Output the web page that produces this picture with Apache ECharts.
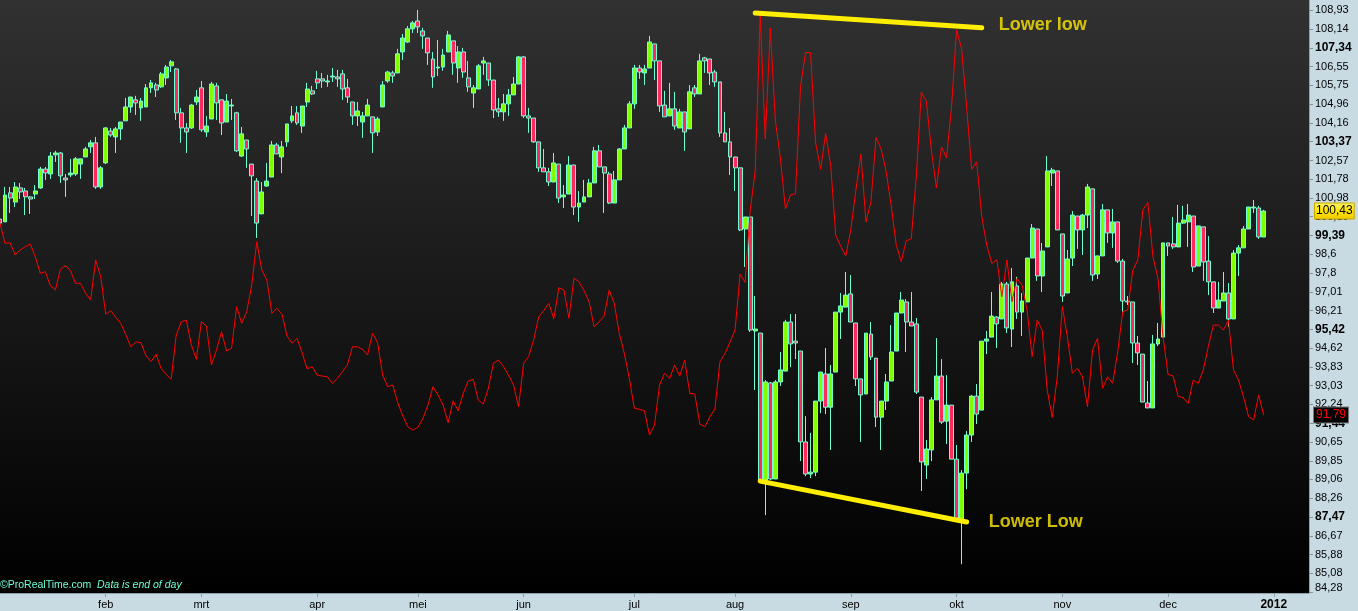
<!DOCTYPE html>
<html><head><meta charset="utf-8">
<script src="https://cdn.jsdelivr.net/npm/echarts@6/dist/echarts.min.js"></script>
<style>html,body{margin:0;padding:0;background:#c8dbe3;} #c{width:1358px;height:611px;}</style>
</head><body><div id="c"></div>
<script>
// ---- DATA ----
const candleOpen = [100.09,99.97,101.20,100.81,101.41,101.28,101.03,101.15,101.41,102.21,
102.00,102.81,102.89,101.83,101.96,102.00,102.42,102.72,103.15,103.32,
101.45,102.47,103.82,103.57,103.91,104.25,104.84,105.14,104.80,104.84,
105.65,105.77,105.69,106.07,106.58,106.45,104.59,103.95,103.95,105.05,
105.65,103.78,104.33,105.73,105.14,104.20,104.88,104.59,102.76,103.44,
102.42,101.70,100.31,101.49,101.87,103.23,102.72,103.36,104.25,104.59,
104.03,105.05,105.52,106.03,106.03,105.90,106.11,106.11,106.24,105.65,
105.05,104.46,104.20,104.46,104.42,103.78,104.84,105.94,106.28,106.28,
107.17,107.59,108.15,108.48,108.06,107.76,106.87,106.49,106.53,107.17,
107.64,106.49,107.17,106.07,105.43,105.60,106.70,106.70,105.98,104.76,
104.63,104.97,105.35,105.81,106.96,104.46,104.37,103.36,102.26,102.09,
101.66,102.42,101.03,101.15,102.38,100.60,100.81,101.03,101.62,102.98,
102.30,102.00,100.77,101.75,103.06,103.95,104.97,106.49,106.28,106.49,
107.51,106.79,104.92,104.46,104.76,103.95,104.63,103.91,105.65,105.39,
106.92,106.87,106.32,105.90,103.74,103.36,102.72,102.26,99.67,100.18,
95.35,95.26,89.03,93.15,89.08,93.19,93.65,95.73,94.92,94.50,
90.65,89.29,89.37,92.38,93.53,92.12,93.61,96.15,96.36,96.92,
95.69,93.32,92.68,95.22,94.20,91.70,92.38,93.23,94.50,96.11,
96.58,95.73,95.65,92.55,89.67,90.31,92.43,93.44,91.53,92.21,
89.92,87.30,89.33,90.94,92.59,92.00,94.92,95.09,95.94,95.86,
97.34,95.43,97.26,96.15,96.58,98.44,99.67,97.68,98.91,102.04,
102.13,99.46,96.96,98.44,100.22,99.63,100.26,101.37,97.76,98.53,
100.48,99.50,99.97,98.31,96.62,96.58,94.84,94.37,92.30,92.09,
94.80,95.09,99.08,99.04,98.91,99.92,99.97,100.22,98.10,99.76,
98.31,97.43,96.32,96.62,96.96,95.86,98.65,98.87,99.67,100.56,
100.56,99.33];
const candleClose = [99.92,101.11,100.98,101.45,101.24,101.03,100.94,101.28,102.21,102.04,
102.76,102.89,101.92,101.75,102.04,102.64,102.64,103.06,103.32,101.45,
102.26,103.95,103.65,103.91,104.20,104.84,105.26,105.01,105.09,105.65,
105.86,105.56,106.24,106.53,106.75,104.59,103.95,103.78,104.92,105.26,
103.87,104.03,105.81,105.01,104.16,105.09,104.92,102.98,103.70,103.06,
101.92,99.92,101.24,101.70,103.23,102.85,103.15,104.12,104.46,104.16,
104.88,105.60,105.39,105.86,105.94,105.94,106.15,106.03,105.60,105.26,
104.46,104.67,104.46,104.92,103.74,104.33,105.77,106.32,106.15,107.09,
107.76,108.15,108.40,108.23,107.85,107.13,106.11,106.53,107.04,107.89,
106.70,107.17,106.32,105.69,105.65,106.58,106.79,105.98,104.71,104.63,
104.97,105.35,105.81,106.96,104.46,104.37,103.36,102.26,102.09,101.66,
102.47,100.98,101.11,102.38,100.60,100.77,101.03,101.62,102.98,102.30,
102.04,100.77,101.75,103.06,103.95,104.97,106.49,106.32,106.45,107.59,
106.79,104.88,104.42,104.76,104.03,104.63,103.78,105.48,105.39,106.79,
106.79,106.28,105.90,103.74,103.36,102.72,102.26,99.63,100.18,95.39,
95.43,88.99,93.19,89.08,93.19,93.70,95.73,94.80,94.84,90.65,
89.29,89.37,92.38,93.61,92.12,93.53,96.15,96.41,96.87,95.73,
93.32,92.64,95.26,94.25,91.70,92.38,93.19,94.46,96.11,96.66,
95.73,95.56,92.76,89.80,90.35,92.43,93.44,91.49,92.21,89.92,
87.38,89.33,90.94,92.59,91.83,94.92,95.01,95.98,95.65,97.34,
95.48,97.43,96.15,96.62,98.44,99.71,97.68,98.74,102.13,102.17,
99.63,96.83,98.40,100.26,99.63,100.26,101.45,97.72,98.53,100.48,
99.50,99.97,98.31,96.62,96.58,94.84,94.42,92.34,92.09,94.80,
95.01,99.08,98.95,98.91,99.92,100.05,100.26,98.06,99.80,98.27,
97.43,96.32,96.66,96.96,95.86,98.65,98.87,99.67,100.60,100.60,
99.33,100.43];
const candleLow = [99.71,99.97,100.35,100.60,100.94,100.26,100.31,100.94,101.37,101.75,
101.79,102.51,101.62,101.03,101.87,101.92,101.79,102.72,102.89,101.37,
101.37,102.42,103.57,102.89,103.44,104.25,104.59,104.50,104.25,104.84,
105.43,105.26,105.65,105.77,106.32,104.29,103.32,102.89,103.91,104.92,
103.78,103.57,104.33,104.29,103.65,104.20,104.29,102.93,102.72,102.26,
100.22,99.29,100.31,101.45,101.87,102.85,102.04,103.15,104.16,104.08,
103.74,104.84,105.35,105.60,105.65,105.69,105.90,105.69,105.14,105.01,
104.08,104.03,103.53,104.46,102.89,103.61,104.84,105.86,105.86,106.28,
106.83,107.55,107.97,107.97,107.30,106.62,105.65,106.15,106.37,107.17,
106.20,105.86,106.07,105.48,104.80,105.60,106.20,105.73,104.37,104.42,
104.25,104.46,105.35,105.81,104.37,103.74,103.32,102.09,102.09,101.49,
101.66,100.77,100.56,101.15,100.26,99.97,100.81,101.03,101.62,102.30,
100.35,100.73,100.77,101.75,103.06,103.95,104.76,106.03,105.77,106.49,
105.98,104.63,104.42,104.46,103.87,103.95,102.98,103.91,105.26,105.39,
106.28,105.77,105.69,103.57,103.36,101.96,101.28,99.58,98.06,95.31,
92.85,88.95,87.55,89.03,89.08,93.02,93.65,93.82,94.16,89.84,
89.20,89.12,89.20,91.87,91.83,90.31,93.61,95.01,96.36,95.73,
93.02,90.65,92.68,94.12,91.28,90.31,92.00,93.23,94.50,96.11,
94.46,95.56,92.68,88.57,89.08,89.84,92.43,91.41,90.56,89.92,
87.38,85.47,88.65,90.65,91.41,92.00,94.37,95.09,94.63,95.86,
95.26,94.67,95.86,95.14,96.58,98.44,97.47,97.00,98.91,101.49,
99.63,96.58,96.96,98.10,98.82,98.57,99.71,97.47,97.55,98.53,
99.08,98.87,98.23,96.11,96.45,93.99,93.91,92.34,92.09,92.09,
94.71,95.09,98.53,98.82,98.91,99.88,98.91,97.85,98.10,97.47,
96.87,96.11,96.32,96.62,95.52,95.86,97.68,98.87,99.67,100.35,
99.25,99.33];
const candleHigh = [100.13,101.45,101.45,101.66,101.62,101.41,101.07,101.53,102.30,102.30,
102.93,102.98,102.93,102.00,102.64,102.72,102.64,103.15,103.44,103.57,
102.34,103.99,103.95,103.99,104.20,105.22,105.26,105.31,105.22,105.81,
105.98,105.86,106.32,106.62,106.83,106.49,104.80,104.16,104.97,105.56,
105.94,104.46,105.90,105.86,105.14,105.39,105.18,104.63,103.99,103.44,
102.42,101.83,101.66,102.47,103.40,103.32,103.40,104.12,104.88,104.88,
104.88,105.86,105.73,106.37,106.28,106.20,106.49,106.41,106.41,106.03,
105.05,105.05,104.63,105.18,104.42,104.42,105.94,106.37,106.37,107.30,
107.93,108.27,108.48,108.95,108.19,107.76,107.17,107.68,107.30,108.06,
107.64,107.42,107.34,106.79,105.77,106.66,106.96,106.70,105.98,105.22,
105.39,105.60,106.11,107.00,107.00,104.80,104.37,103.36,103.06,102.26,
102.89,102.42,101.53,102.76,102.38,101.28,101.75,101.79,103.15,103.23,
102.30,102.09,102.13,103.10,104.08,105.09,106.62,106.62,106.62,107.85,
107.51,106.79,105.52,105.86,105.48,104.76,104.63,105.77,105.77,107.09,
106.96,106.87,106.41,105.90,104.63,103.95,102.72,102.26,100.18,100.18,
96.83,95.26,93.27,93.19,93.27,94.46,95.82,96.07,96.07,94.50,
91.74,91.03,92.38,93.61,94.63,93.91,96.15,96.96,97.85,97.72,
95.69,93.32,95.26,95.73,94.20,92.38,93.53,95.60,96.11,97.00,
96.70,97.00,95.90,92.55,90.73,92.55,95.05,94.16,93.48,92.21,
90.52,89.46,91.11,92.64,93.10,94.92,95.35,97.00,95.98,97.43,
97.43,98.02,97.64,96.96,98.44,99.88,99.67,99.08,102.76,102.26,
102.13,99.46,98.78,100.43,100.22,100.31,101.58,101.37,98.53,100.73,
100.48,100.52,99.97,98.40,96.83,96.58,95.14,94.37,93.23,95.18,
95.69,99.08,99.08,100.18,100.69,100.65,100.73,100.22,99.80,99.76,
99.37,97.43,97.43,97.85,97.38,98.78,98.99,99.80,100.60,100.90,
100.65,100.48];
const redLine = [99.91,99.06,99.09,98.57,98.78,98.92,99.03,98.50,97.79,97.86,
97.27,97.09,97.96,98.12,97.90,97.37,97.37,96.95,96.66,98.36,
97.65,96.06,96.21,95.93,95.67,95.18,94.68,94.89,94.85,94.29,
94.05,94.36,93.77,93.51,93.30,95.18,95.74,95.81,94.76,94.15,
95.74,95.56,93.91,94.54,95.32,94.50,94.62,96.38,95.67,96.17,
97.30,99.13,97.93,97.51,96.10,96.31,96.06,95.14,94.83,95.04,
94.43,93.74,93.84,93.48,93.44,93.41,93.13,93.34,93.62,93.91,
94.68,94.68,94.57,94.33,95.26,94.85,93.48,92.99,93.06,92.31,
91.75,91.29,91.15,91.27,91.65,92.21,92.99,92.64,92.21,91.46,
92.39,91.97,92.71,93.23,93.30,92.42,92.26,92.92,93.98,94.12,
93.84,93.48,93.06,92.14,93.98,94.26,94.97,95.95,96.21,96.52,
95.86,97.18,97.09,95.89,97.58,97.44,97.06,96.59,95.53,95.74,
95.98,97.09,96.52,95.25,94.40,93.34,92.07,92.03,91.97,90.94,
91.37,93.06,93.56,93.34,93.91,93.44,94.12,92.71,92.68,91.41,
91.29,91.72,92.04,94.05,94.40,94.88,95.39,97.76,97.41,100.44,
102.12,108.74,103.47,108.18,104.27,102.68,100.52,101.11,101.16,105.70,
107.14,107.14,103.32,102.20,103.71,102.36,99.41,98.93,98.53,99.65,
101.32,102.84,99.97,100.84,103.55,103.07,102.12,100.68,99.01,98.29,
99.17,99.25,101.88,105.47,105.07,103.00,101.40,103.15,102.68,104.83,
108.10,107.30,104.83,102.20,102.52,100.20,98.97,98.21,98.37,96.80,
98.36,96.59,97.58,97.30,96.24,94.26,95.81,95.39,92.85,91.69,
93.41,96.38,95.11,93.56,93.77,93.41,92.14,94.54,95.04,92.92,
93.41,93.13,94.47,96.17,96.24,97.93,98.36,100.48,100.79,98.50,
97.58,95.11,93.51,93.44,92.59,92.52,92.28,93.27,93.13,93.70,
94.68,95.60,95.60,95.39,95.81,93.70,93.27,92.56,91.72,91.58,
92.64,91.79];
const monthLabels = ['feb','mrt','apr','mei','jun','jul','aug','sep','okt','nov','dec','2012'];
const monthStartIdx = [21,40,63,83,104,126,146,169,190,211,232,253];
const yTickValues = [84.28,85.08,85.88,86.67,87.47,88.26,89.06,89.85,90.65,91.44,92.24,93.03,93.83,94.62,95.42,96.21,97.01,97.80,98.60,99.39,100.19,100.98,101.78,102.57,103.37,104.16,104.96,105.75,106.55,107.34,108.14,108.93];
const yTickLabels = ['84,28','85,08','85,88','86,67','87,47','88,26','89,06','89,85','90,65','91,44','92,24','93,03','93,83','94,62','95,42','96,21','97,01','97,8','98,6','99,39','100,19','100,98','101,78','102,57','103,37','104,16','104,96','105,75','106,55','107,34','108,14','108,93'];
const yBoldLabels = ['107,34','103,37','99,39','95,42','91,44','87,47'];
const trendTop = [[150,108.82],[195,108.19]];
const trendBottom = [[151,88.99],[192,87.26]];
const noteTop = [[197,108.32,'Lower low']];
const noteBottom = [[195,87.26,'Lower Low']];

// ---- CHART ----
const N = 261;
const categories = Array.from({length: N}, (_, i) => String(i));
const ohlc = candleOpen.map((o, i) => [o, candleClose[i], candleLow[i], candleHigh[i]]);
const fmt = v => v.toFixed(2).replace('.', ',');
const lastClose = candleClose[candleClose.length - 1];
const lastRed = redLine[redLine.length - 1];
const FONT = 'Liberation Sans';
const CYAN = '#6effd6';

const chart = echarts.init(document.getElementById('c'), null, {renderer: 'canvas'});
chart.setOption({
  animation: false,
  backgroundColor: '#c8dbe3',
  grid: {
    left: 0, top: 0, right: 49, bottom: 18, show: true, borderWidth: 0,
    backgroundColor: {type: 'linear', x: 0, y: 0, x2: 0, y2: 1,
      colorStops: [{offset: 0, color: '#313131'}, {offset: 1, color: '#000000'}]}
  },
  xAxis: {
    type: 'category', data: categories, boundaryGap: false,
    axisLine: {show: true, lineStyle: {color: '#8ea2ac', width: 1}},
    axisTick: {show: true, length: 4, lineStyle: {color: '#8ea2ac'},
      interval: (i) => monthStartIdx.includes(i)},
    axisLabel: {
      interval: (i) => monthStartIdx.includes(i), margin: 6,
      formatter: (v, i) => {
        const k = monthStartIdx.indexOf(i);
        if (k < 0) return '';
        const t = monthLabels[k];
        return /^\d+$/.test(t) ? '{b|' + t + '}' : '{n|' + t + '}';
      },
      rich: {
        n: {fontFamily: FONT, fontSize: 11, color: '#000'},
        b: {fontFamily: FONT, fontSize: 12, fontWeight: 'bold', color: '#000'}
      }
    },
    splitLine: {show: false}
  },
  yAxis: {
    type: 'value', position: 'right', min: 84.25, max: 109.37, scale: true,
    axisLine: {show: true, lineStyle: {color: '#8ea2ac', width: 1}},
    axisTick: {show: true, length: 4, inside: false, lineStyle: {color: '#7f939d'}, customValues: yTickValues},
    axisLabel: {
      customValues: yTickValues, margin: 6,
      formatter: (v) => {
        let k = -1, best = 1e9;
        yTickValues.forEach((t, j) => { const d = Math.abs(t - v); if (d < best) { best = d; k = j; } });
        if (best > 0.01) return '';
        const t = yTickLabels[k];
        if (k === 0) return '{e|' + t + '}';
        return yBoldLabels.includes(t) ? '{b|' + t + '}' : '{n|' + t + '}';
      },
      rich: {
        n: {fontFamily: FONT, fontSize: 11, color: '#000'},
        e: {fontFamily: FONT, fontSize: 11, color: '#000', padding: [0, 0, 9, 0]},
        b: {fontFamily: FONT, fontSize: 12, fontWeight: 'bold', color: '#000'}
      }
    },
    splitLine: {show: false}
  },
  series: [
    {
      type: 'candlestick', data: ohlc, barWidth: 4.4, z: 2,
      itemStyle: {color: '#80ff00', color0: '#ff2a5c', borderColor: CYAN, borderColor0: CYAN,
        borderColorDoji: CYAN, borderWidth: 1},
      markLine: {
        silent: true, symbol: ['none', 'none'], z: 10,
        lineStyle: {color: 'rgba(0,0,0,0)', width: 0},
        label: {show: true, position: 'end', distance: 6, formatter: () => fmt(lastClose),
          color: '#000', fontFamily: FONT, fontSize: 12, padding: [2, 1, 1, 1],
          borderColor: '#c9a800', borderWidth: 1,
          backgroundColor: {type: 'linear', x: 0, y: 0, x2: 0, y2: 1,
            colorStops: [{offset: 0, color: '#fff36a'}, {offset: 0.5, color: '#ffe500'}, {offset: 1, color: '#f0c800'}]}},
        data: [{yAxis: lastClose}]
      }
    },
    {
      type: 'line', data: redLine, showSymbol: false, symbol: 'none', z: 3,
      lineStyle: {color: '#ff0000', width: 1}, silent: true,
      markLine: {
        silent: true, symbol: ['none', 'none'], z: 10,
        lineStyle: {color: 'rgba(0,0,0,0)', width: 0},
        label: {show: true, position: 'end', distance: 5, formatter: () => fmt(lastRed),
          color: '#ff0000', fontFamily: FONT, fontSize: 12, padding: [2, 2, 1, 2],
          backgroundColor: '#000', borderColor: '#7a7a7a', borderWidth: 1},
        data: [{yAxis: lastRed}]
      }
    },
    {
      type: 'line', data: trendTop, symbol: 'none', z: 4, silent: true,
      lineStyle: {color: '#ffee00', width: 5, cap: 'round'}
    },
    {
      type: 'line', data: trendBottom, symbol: 'none', z: 4, silent: true,
      lineStyle: {color: '#ffee00', width: 5, cap: 'round'}
    },
    {
      type: 'scatter', data: noteTop.concat(noteBottom), symbolSize: 0, z: 5, silent: true,
      label: {show: true, position: 'right', distance: 7, formatter: (p) => p.data[2],
        color: '#ffe800', fontFamily: FONT, fontSize: 18, fontWeight: 'bold'}
    }
  ],
  graphic: [
    {type: 'text', left: 0, top: 580, z: 20, silent: true,
      style: {text: '\u00a9ProRealTime.com', fill: CYAN, font: '10.5px "Liberation Sans"'}},
    {type: 'text', left: 97, top: 580, z: 20, silent: true,
      style: {text: 'Data is end of day', fill: CYAN, font: 'italic 10.5px "Liberation Sans"'}}
  ]
});
</script>
</body></html>
